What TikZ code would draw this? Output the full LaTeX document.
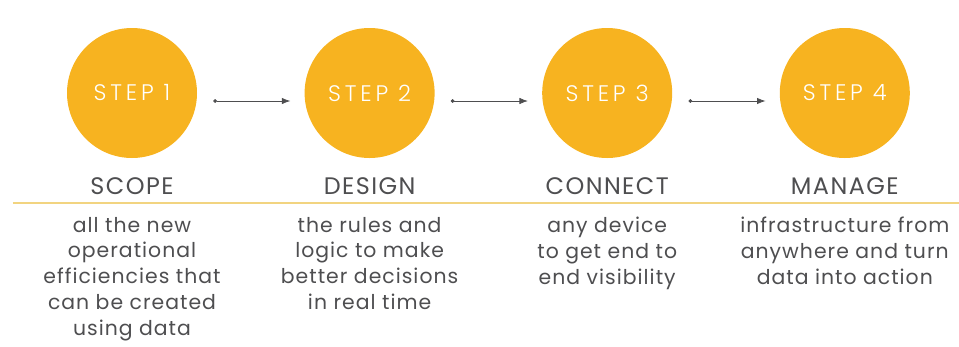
\documentclass[tikz,border=0pt]{standalone}
\usepackage{fontspec}
\setmainfont{Poppins}
\IfFontExistsTF{Poppins Light}
    {\newfontfamily\passofont[LetterSpace=17]{Poppins Light}}
    {\newfontfamily\passofont[LetterSpace=17]{Poppins}}
\newfontfamily\titolofont[LetterSpace=6]{Poppins}
\newfontfamily\descrfont[LetterSpace=5]{Poppins}
\usetikzlibrary{arrows.meta, positioning}
\definecolor{giallo}{RGB}{247,179,32}
\definecolor{riga}{RGB}{242,212,128}
\definecolor{grigio}{RGB}{78,78,80}

\begin{document}
\begin{tikzpicture}[
    cerchio/.style = {circle, fill = giallo, minimum size = 3.25cm, inner sep = 0pt, text = white, font = \passofont\fontsize{16}{18}\selectfont},
    titolo/.style = {text = grigio, font = \titolofont\fontsize{17}{19}\selectfont},
    descr/.style = {text = grigio, align = center, anchor = north, font = \descrfont\fontsize{14.5}{18.4}\selectfont},
    freccia/.style = {{Circle[length = 2.6pt]}-{Latex[length = 6pt, width = 4.5pt]}, draw = grigio, line width = 0.5pt}
]
    % Parametri
    \pgfmathsetmacro{\passo}{5.94}
    \useasboundingbox (0,0) rectangle (23.975,-8.65);
    % Cerchi, titoli e testi
    \foreach \i/\nome/\testo in {
        1/SCOPE/{all the new\\operational\\efficiencies that\\can be created\\using data},
        2/DESIGN/{the rules and\\logic to make\\better decisions\\in real time},
        3/CONNECT/{any device\\to get end to\\end visibility},
        4/MANAGE/{infrastructure from\\anywhere and turn\\data into action}}{
        \node[cerchio] (p\i) at ({3.3+(\i-1)*\passo},-2.325) {STEP \i};
        \node[titolo] (t\i) at ({3.3+(\i-1)*\passo},-4.65) {\nome};
        \node[descr] (d\i) at ({3.3+(\i-1)*\passo},-5.3) {\testo};
    }
    % Riga
    \draw[riga, line width = 1.2pt] (0.325,-5.075) -- (23.975,-5.075);
    % Frecce
    \foreach \i in {1,2,3}{
        \pgfmathtruncatemacro{\j}{\i+1}
        \draw[freccia] ([shift = {(0.4,-0.2)}]p\i.east) -- ([shift = {(-0.35,-0.2)}]p\j.west);
    }
\end{tikzpicture}
\end{document}
